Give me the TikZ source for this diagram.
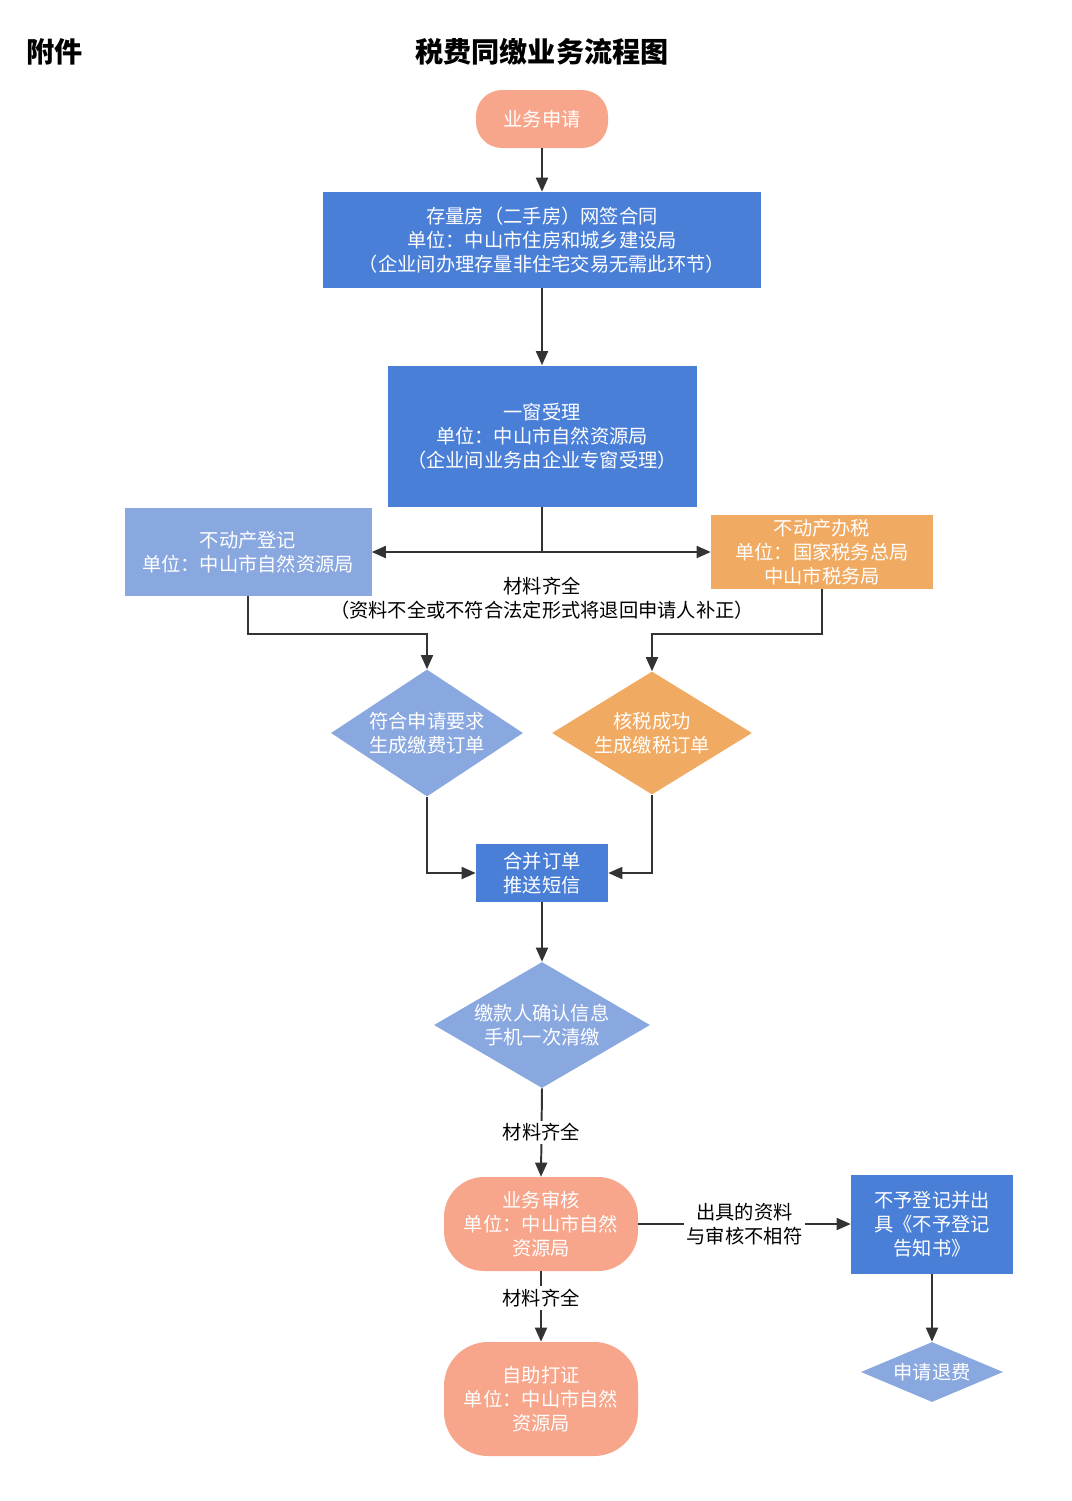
\documentclass[tikz,border=0pt]{standalone}
\usepackage{fontspec}
\setmainfont{Noto Sans CJK SC}
\usetikzlibrary{arrows.meta,shapes.geometric}
\definecolor{salmon}{HTML}{F7A68B}
\definecolor{deepblue}{HTML}{4A7FD8}
\definecolor{paleblue}{HTML}{8AA8E0}
\definecolor{taxorange}{HTML}{F1AA62}
\definecolor{linegray}{HTML}{333333}
\newcommand{\unitpx}{0.025cm}
\newcommand{\boxfont}{\fontsize{13.7}{17}\selectfont}
\tikzset{
  flowbox/.style={rectangle, text=white, align=center, inner sep=0pt, font=\boxfont},
  stadium/.style={flowbox, fill=salmon, rounded corners=#1},
  choice/.style={diamond, text=white, align=center, inner sep=0pt, font=\boxfont},
  arr/.style={draw=linegray, line width=1.4pt, -{Triangle[length=10pt,width=8.5pt]}},
  link/.style={draw=linegray, line width=1.4pt},
  lab/.style={fill=white, text=black, align=center, inner sep=2pt, font=\boxfont}
}

\begin{document}
\begin{tikzpicture}[x=\unitpx, y=-\unitpx]
%%%%% START %%%%%
\useasboundingbox[fill=white] (0,0) rectangle (1072,1501);

\node[font=\fontsize{20}{23}\selectfont\bfseries] (annex) at (55,52) {附件};
\node[font=\fontsize{20}{23}\selectfont\bfseries] (title) at (542,52) {税费同缴业务流程图};

% top part
\node[stadium=0.65cm, minimum width=132*\unitpx, minimum height=58*\unitpx] (apply) at (542,119) {业务申请};
\node[flowbox, fill=deepblue, minimum width=438*\unitpx, minimum height=96*\unitpx] (sign) at (542,240)
  {存量房（二手房）网签合同\\单位：中山市住房和城乡建设局\\（企业间办理存量非住宅交易无需此环节）};
\node[flowbox, fill=deepblue, minimum width=309*\unitpx, minimum height=141*\unitpx] (window) at (542,436)
  {一窗受理\\单位：中山市自然资源局\\（企业间业务由企业专窗受理）};

\node[flowbox, fill=paleblue, minimum width=247*\unitpx, minimum height=88*\unitpx] (reg) at (248,552)
  {不动产登记\\单位：中山市自然资源局};
\node[flowbox, fill=taxorange, minimum width=222*\unitpx, minimum height=74*\unitpx] (tax) at (822,552)
  {不动产办税\\单位：国家税务总局\\中山市税务局};
\coordinate (split) at (542,552);
\node[lab, fill=none, inner sep=0pt] (note) at (542,598) {材料齐全\\（资料不全或不符合法定形式将退回申请人补正）};

% orders
\node[choice, fill=paleblue, aspect=1.51, minimum width=192*\unitpx, minimum height=127*\unitpx] (fee) at (427,733)
  {符合申请要求\\生成缴费订单};
\node[choice, fill=taxorange, aspect=1.63, minimum width=200*\unitpx, minimum height=123*\unitpx] (taxd) at (652,733)
  {核税成功\\生成缴税订单};
\node[flowbox, fill=deepblue, minimum width=132*\unitpx, minimum height=58*\unitpx] (merge) at (542,873)
  {合并订单\\推送短信};
\node[choice, fill=paleblue, aspect=1.71, minimum width=216*\unitpx, minimum height=126*\unitpx] (pay) at (542,1025)
  {缴款人确认信息\\手机一次清缴};

% bottom part
\node[stadium=1cm, minimum width=194*\unitpx, minimum height=94*\unitpx] (audit) at (541,1224)
  {业务审核\\单位：中山市自然\\资源局};
\node[stadium=1.1cm, minimum width=194*\unitpx, minimum height=114*\unitpx] (cert) at (541,1399)
  {自助打证\\单位：中山市自然\\资源局};
\node[flowbox, fill=deepblue, minimum width=162*\unitpx, minimum height=99*\unitpx] (reject) at (932,1224)
  {不予登记并出\\具《不予登记\\告知书》};
\node[choice, fill=paleblue, aspect=2.37, minimum width=142*\unitpx, minimum height=60*\unitpx] (refund) at (932,1372)
  {申请退费};

% connectors
\draw[arr] (apply.south) -- (sign.north);
\draw[arr] (sign.south) -- (window.north);
\draw[link] (window.south) -- (split);
\draw[arr] (split) -- (reg.east);
\draw[arr] (split) -- (tax.west);
\draw[arr] (reg.south) -- ++(0,38) -| (fee.north);
\draw[arr] (tax.south) -- ++(0,45) -| (taxd.north);
\draw[arr] (fee.south) |- (merge.west);
\draw[arr] (taxd.south) |- (merge.east);
\draw[arr] (merge.south) -- (pay.north);
\draw[arr] (pay.south) -- node[lab] {材料齐全} (audit.north);
\draw[arr] (audit.east) -- node[lab] {出具的资料\\与审核不相符} (reject.west);
\draw[arr] (reject.south) -- (refund.north);
\draw[arr] (audit.south) -- node[lab, pos=0.38] {材料齐全} (cert.north);
%%%%% END %%%%%
\end{tikzpicture}
\end{document}
